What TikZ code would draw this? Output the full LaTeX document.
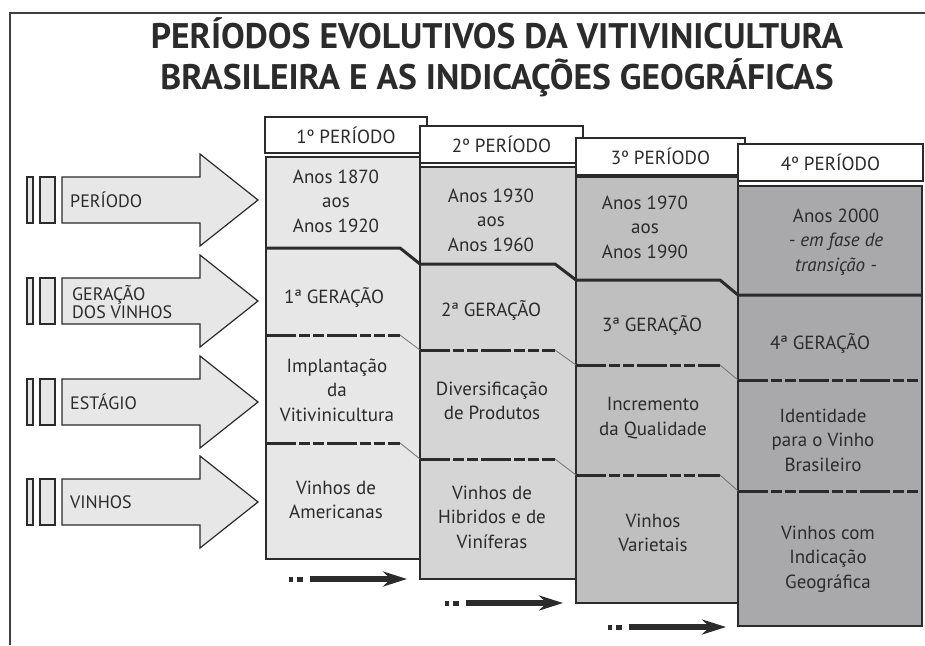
\documentclass[tikz,border=0pt]{standalone}
\usepackage{fontspec}
\setmainfont{PT Sans}
\usetikzlibrary{arrows.meta}
\definecolor{colA}{HTML}{E7E7E7}
\definecolor{colB}{HTML}{D5D5D6}
\definecolor{colC}{HTML}{BFBFC0}
\definecolor{colD}{HTML}{A9A9AC}
\definecolor{inkgray}{HTML}{2B2B2B}

\begin{document}
\begin{tikzpicture}[x=1pt, y=-1pt,
  every node/.style={text=inkgray, inner sep=0},
  bodytext/.style={align=center, font=\fontsize{19}{24.5}\selectfont},
  sidetext/.style={anchor=west, align=left, font=\fontsize{18}{18.5}\selectfont},
  colbox/.style={draw=inkgray, line width=1.3},
  hdrbox/.style={draw=inkgray, fill=white, line width=1.3, font=\fontsize{19}{22}\selectfont},
  rowarrow/.style={draw=inkgray, fill=colA, line width=1.2},
  solidline/.style={line width=3, inkgray},
  dashline/.style={line width=3, inkgray, dash pattern=on 30 off 3 on 11 off 3 on 11 off 3},
  slopeline/.style={line width=0.8, black!55},
  flowarrow/.style={line width=6, inkgray, -{Stealth[length=24pt, width=15pt]}}]
\useasboundingbox (0,0) rectangle (925,645);

% frame
\draw [line width=2, black!75] (925,13) -- (10,13) -- (10,645);

% title
\node (title) at (497,57) [align=center, font=\fontsize{35.5}{41}\selectfont\bfseries]
  {PERÍODOS EVOLUTIVOS DA VITIVINICULTURA\\BRASILEIRA E AS INDICAÇÕES GEOGRÁFICAS};

% left arrows
\foreach \y in {200, 301, 402, 502}{
  \draw [rowarrow] (27,\y-23) rectangle (33,\y+23);
  \draw [rowarrow] (40,\y-23) rectangle (55,\y+23);
  \draw [rowarrow] (62,\y-23) -- (200,\y-23) -- (200,\y-46) -- (258,\y) -- (200,\y+46) -- (200,\y+23) -- (62,\y+23) -- cycle;
}
\node [sidetext] (sper) at (70,200) {PERÍODO};
\node [sidetext] (sger) at (72,302) {GERAÇÃO\\DOS VINHOS};
\node [sidetext] (sest) at (70,402) {ESTÁGIO};
\node [sidetext] (svin) at (70,502) {VINHOS};

% columns
\foreach \xa/\xb/\ya/\yb/\c in {266/420/157/559/colA, 420/576/167/579/colB, 576/738/177/603/colC, 738/922/186/626/colD}
  \draw [colbox, fill=\c] (\xa,\ya) rectangle (\xb,\yb);

% headers
\foreach \n/\xa/\xb/\ya/\yb in {1/265/427/117/153, 2/420/583/126/163, 3/576/745/138/175, 4/738/923/144/181}
  \node [hdrbox, minimum width=\xb-\xa, minimum height=\yb-\ya] (hdr\n) at ({(\xa+\xb)/2},{(\ya+\yb)/2}) {\n º PERÍODO};

% dividers
\draw [solidline] (266,248) -- (400,248) -- (420,264) -- (555,264) -- (576,280) -- (720,280) -- (738,295) -- (922,295);
\foreach \ya/\yb/\yc/\yd in {335/350/365/380, 443/459/475/491}{
  \draw [dashline] (266,\ya) -- (400,\ya);
  \draw [dashline] (420,\yb) -- (555,\yb);
  \draw [dashline] (576,\yc) -- (720,\yc);
  \draw [dashline] (738,\yd) -- (922,\yd);
  \draw [slopeline] (400,\ya) -- (420,\yb);
  \draw [slopeline] (555,\yb) -- (576,\yc);
  \draw [slopeline] (720,\yc) -- (738,\yd);
}

% column texts
\node [bodytext] (p1) at (336,201) {Anos 1870\\aos\\Anos 1920};
\node [bodytext] (g1) at (334,297) {1ª GERAÇÃO};
\node [bodytext] (e1) at (337,390) {Implantação\\da\\Vitivinicultura};
\node [bodytext] (v1) at (336,500) {Vinhos de\\Americanas};

\node [bodytext] (p2) at (491,220) {Anos 1930\\aos\\Anos 1960};
\node [bodytext] (g2) at (491,310) {2ª GERAÇÃO};
\node [bodytext] (e2) at (492,401) {Diversificação\\de Produtos};
\node [bodytext] (v2) at (492,517) {Vinhos de\\Hibridos e de\\Viníferas};

\node [bodytext] (p3) at (645,227) {Anos 1970\\aos\\Anos 1990};
\node [bodytext] (g3) at (652,325) {3ª GERAÇÃO};
\node [bodytext] (e3) at (653,418) {Incremento\\da Qualidade};
\node [bodytext] (v3) at (653,533) {Vinhos\\Varietais};

\node [bodytext] (p4) at (836,242) {Anos 2000\\\textit{- em fase de}\\\textit{transição -}};
\node [bodytext] (g4) at (820,343) {4ª GERAÇÃO};
\node [bodytext] (e4) at (823,440) {Identidade\\para o Vinho\\Brasileiro};
\node [bodytext] (v4) at (828,559) {Vinhos com\\Indicação\\Geográfica};

% time arrows
\foreach \x/\y in {289/579, 445/603, 608/627}{
  \fill [inkgray] (\x,\y-2.5) rectangle (\x+4,\y+2.5);
  \fill [inkgray] (\x+8,\y-2.5) rectangle (\x+14,\y+2.5);
  \draw [flowarrow] (\x+21,\y) -- (\x+118,\y);
}
\end{tikzpicture}
\end{document}
